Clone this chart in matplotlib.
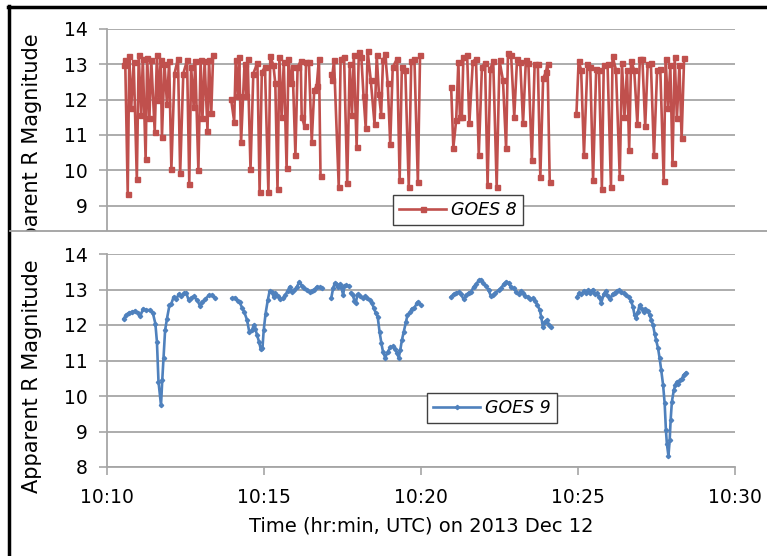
import numpy as np
import matplotlib
matplotlib.use("Agg")
import matplotlib.pyplot as plt
from matplotlib.patches import Rectangle
from matplotlib.lines import Line2D

nan = np.nan

# ---------------- data (time in minutes after 10:00 UTC) ----------------
g8_time = [
    10.53, 10.58, 10.66, 10.71, 10.77, 10.85, 10.95, 11.01, 11.09, 11.14, 11.23, 11.28, 11.35, 11.41,
    11.52, 11.59, 11.64, 11.71, 11.75, 11.83, 11.91, 11.98, 12.05, 12.15, 12.26, 12.33, 12.43, 12.55,
    12.62, 12.68, 12.76, 12.81, 12.91, 12.98, 13.04, 13.11, 13.20, 13.25, 13.32, 13.38, nan,
    13.95, 14.05, 14.10, 14.17, 14.21, 14.27, 14.38, 14.44, 14.48, 14.57, 14.66, 14.79, 14.86, 14.93,
    15.03, 15.14, 15.20, 15.30, 15.36, 15.43, 15.49, 15.56, 15.63, 15.72, 15.78, 15.85, 15.91, 16.00,
    16.07, 16.17, 16.20, 16.29, 16.34, 16.43, 16.52, 16.60, 16.68, 16.75, 16.80, nan,
    17.12, 17.16, 17.23, 17.38, 17.44, 17.55, 17.65, 17.73, 17.80, 17.86, 17.95, 18.02, 18.10, 18.17,
    18.24, 18.30, 18.40, 18.52, 18.59, 18.66, 18.73, 18.79, 18.86, 18.94, 19.02, 19.10, 19.24, 19.32,
    19.39, 19.50, 19.61, 19.69, 19.79, 19.90, 19.97, nan,
    20.96, 21.03, 21.12, 21.19, 21.24, 21.30, 21.35, 21.47, 21.54, 21.65, 21.75, 21.84, 21.94, 22.04,
    22.12, 22.21, 22.30, 22.41, 22.50, 22.61, 22.71, 22.77, 22.87, 22.97, 23.06, 23.16, 23.25, 23.34,
    23.42, 23.53, 23.62, 23.72, 23.80, 23.89, 23.98, 24.03, 24.10, nan,
    24.95, 25.02, 25.10, 25.19, 25.30, 25.39, 25.48, 25.58, 25.67, 25.76, 25.82, 25.94, 26.05, 26.10,
    26.21, 26.33, 26.40, 26.48, 26.56, 26.63, 26.69, 26.79, 26.89, 26.97, 27.05, 27.14, 27.22, 27.32,
    27.42, 27.52, 27.62, 27.73, 27.79, 27.87, 27.94, 28.01, 28.08, 28.15, 28.23, 28.30, 28.38,
]
g8_mag = [
    12.97, 13.11, 9.34, 13.23, 11.75, 13.07, 9.75, 13.25, 11.56, 13.16, 10.31, 13.19, 11.47, 13.11,
    11.08, 13.25, 11.99, 13.11, 10.95, 13.02, 11.89, 13.09, 10.04, 12.74, 13.16, 9.92, 12.74, 13.11,
    9.62, 12.92, 11.80, 13.09, 10.00, 13.11, 11.47, 13.09, 11.12, 13.13, 11.61, 13.25, nan,
    12.03, 11.38, 13.11, 12.10, 13.21, 10.79, 13.02, 12.10, 13.16, 10.03, 12.74, 13.04, 9.39, 12.78,
    12.92, 9.38, 13.23, 12.97, 12.46, 9.47, 13.21, 11.50, 13.07, 10.06, 13.16, 12.46, 12.92, 10.44,
    12.92, 13.09, 11.52, 11.25, 13.07, 13.07, 10.81, 12.27, 12.40, 13.16, 9.83, nan,
    12.74, 12.55, 13.11, 9.54, 13.16, 13.21, 9.64, 13.02, 11.56, 13.25, 10.67, 13.35, 13.21, 12.10,
    11.19, 13.39, 12.55, 11.31, 13.25, 12.17, 11.56, 13.11, 13.28, 12.46, 10.75, 12.92, 13.16, 9.73,
    12.92, 12.85, 9.53, 13.09, 13.16, 9.66, 13.25, nan,
    12.36, 10.64, 11.42, 13.07, 11.52, 11.50, 13.21, 13.25, 11.33, 13.07, 13.16, 10.44, 12.92, 13.04,
    9.57, 12.88, 13.09, 9.54, 13.11, 12.55, 10.62, 13.32, 13.25, 11.52, 13.16, 13.07, 11.33, 13.11,
    13.04, 10.28, 13.02, 13.02, 9.81, 12.60, 12.78, 13.02, 9.66, nan,
    11.59, 13.09, 12.84, 10.44, 13.00, 12.92, 9.73, 12.88, 12.85, 9.48, 12.97, 13.02, 9.53, 13.23,
    12.84, 9.80, 13.04, 11.52, 12.84, 10.58, 13.09, 12.84, 11.31, 13.16, 13.16, 11.25, 13.02, 13.04,
    10.44, 12.84, 12.88, 9.69, 13.16, 11.75, 12.97, 10.20, 13.21, 11.47, 12.97, 10.91, 13.19,
]

g9_time = [
    10.53, 10.61, 10.69, 10.80, 10.90, 10.98, 11.06, 11.15, 11.25, 11.38, 11.46, 11.54, 11.59, 11.64,
    11.72, 11.76, 11.80, 11.85, 11.91, 11.99, 12.05, 12.12, 12.21, 12.28, 12.37, 12.44, 12.53, 12.60,
    12.67, 12.76, 12.87, 12.97, 13.02, 13.13, 13.24, 13.34, 13.45, nan,
    13.98, 14.09, 14.16, 14.22, 14.30, 14.37, 14.46, 14.53, 14.62, 14.67, 14.72, 14.78, 14.84, 14.90,
    14.95, 14.99, 15.05, 15.12, 15.18, 15.25, 15.31, 15.36, 15.43, 15.52, 15.60, 15.68, 15.75, 15.82,
    15.89, 15.97, 16.05, 16.13, 16.21, 16.28, 16.37, 16.45, 16.53, 16.60, 16.69, 16.77, 16.85, nan,
    17.14, 17.20, 17.25, 17.30, 17.36, 17.41, 17.46, 17.52, 17.56, 17.62, 17.70, nan,
    17.77, 17.83, 17.88, 17.92, 17.98, 18.07, 18.15, 18.23, 18.28, 18.36, 18.44, 18.49, 18.56, 18.62,
    18.68, 18.74, 18.79, 18.86, 18.94, 19.02, 19.11, 19.18, 19.23, 19.29, 19.34, 19.39, 19.45, 19.52,
    19.57, 19.66, 19.71, 19.79, 19.87, 19.92, 20.00, nan,
    20.95, 21.04, 21.12, 21.20, 21.27, 21.36, 21.44, 21.52, 21.59, 21.68, 21.76, 21.84, 21.91, 21.99,
    22.08, 22.15, 22.23, 22.29, 22.37, 22.47, 22.55, 22.63, 22.72, 22.79, 22.87, 22.95, 23.04, 23.11,
    23.18, 23.25, 23.32, 23.40, 23.48, 23.57, 23.64, 23.71, 23.78, 23.83, 23.88, 23.94, 24.01, 24.08,
    24.14, nan,
    24.97, 25.04, 25.11, 25.18, 25.25, 25.32, 25.39, 25.47, 25.53, 25.60, 25.68, 25.74, 25.82, 25.89,
    25.95, 26.03, 26.10, 26.17, 26.24, 26.32, 26.38, 26.45, 26.54, 26.61, 26.69, 26.75, 26.80, 26.85,
    26.91, 26.96, 27.04, 27.09, 27.14, 27.22, 27.28, 27.33, 27.39, 27.44, 27.49, 27.55, 27.60, 27.65,
    27.71, 27.76, 27.80, 27.83, 27.88, 27.92, 27.95, 27.99, 28.05, 28.10, 28.15, 28.20, 28.26, 28.31,
    28.36, 28.43,
]
g9_mag = [
    12.18, 12.28, 12.34, 12.37, 12.40, 12.34, 12.25, 12.46, 12.42, 12.42, 12.34, 12.04, 11.53, 10.40,
    9.74, 10.45, 11.06, 11.85, 12.18, 12.56, 12.60, 12.79, 12.72, 12.87, 12.81, 12.89, 12.89, 12.70,
    12.75, 12.81, 12.70, 12.53, 12.65, 12.72, 12.84, 12.84, 12.77, nan,
    12.75, 12.77, 12.68, 12.65, 12.49, 12.37, 12.14, 11.81, 11.85, 12.00, 11.90, 11.71, 11.53, 11.31,
    11.34, 11.85, 12.32, 12.70, 12.96, 12.93, 12.79, 12.89, 12.81, 12.72, 12.75, 12.84, 12.96, 13.08,
    12.93, 12.98, 13.08, 13.22, 13.09, 13.03, 12.98, 12.93, 12.96, 13.00, 13.08, 13.06, 13.03, nan,
    12.75, 13.03, 13.17, 13.15, 13.08, 13.15, 13.08, 12.84, 13.09, 13.12, 13.09, nan,
    12.91, 12.84, 12.68, 12.61, 12.87, 12.81, 12.75, 12.81, 12.75, 12.70, 12.62, 12.49, 12.34, 12.23,
    11.81, 11.48, 11.24, 11.08, 11.24, 11.37, 11.40, 11.31, 11.22, 11.08, 11.29, 11.57, 11.81, 12.09,
    12.28, 12.37, 12.46, 12.49, 12.61, 12.65, 12.56, nan,
    12.79, 12.87, 12.89, 12.93, 12.87, 12.72, 12.84, 12.91, 12.93, 13.08, 13.15, 13.26, 13.28, 13.17,
    13.09, 12.98, 12.81, 12.84, 12.91, 12.98, 13.03, 13.15, 13.22, 13.17, 13.06, 13.03, 12.93, 12.87,
    12.96, 12.89, 12.81, 12.79, 12.72, 12.75, 12.68, 12.56, 12.42, 12.23, 11.95, 12.09, 12.14, 12.00,
    11.93, nan,
    12.79, 12.91, 12.87, 12.96, 12.89, 12.98, 12.89, 13.00, 12.87, 12.89, 12.79, 12.62, 12.87, 12.96,
    12.81, 12.72, 12.87, 12.91, 12.96, 12.98, 12.93, 12.89, 12.84, 12.79, 12.68, 12.51, 12.28, 12.21,
    12.37, 12.56, 12.44, 12.37, 12.46, 12.40, 12.28, 12.15, 12.00, 11.76, 11.57, 11.34, 11.06, 10.73,
    10.31, 9.79, 9.04, 8.66, 8.31, 8.76, 9.32, 9.84, 10.16, 10.31, 10.40, 10.35, 10.45, 10.49,
    10.59, 10.65,
]

x_ticks = [10, 15, 20, 25, 30]
x_ticklabels = ["10:10", "10:15", "10:20", "10:25", "10:30"]
top_yticks = [9, 10, 11, 12, 13, 14]
bot_yticks = [8, 9, 10, 11, 12, 13, 14]

# ---------------- figure ----------------
plt.rcParams["font.family"] = ["DejaVu Sans"]
W, H = 767, 556
fig = plt.figure(figsize=(W / 100, H / 100), dpi=100)


def fx(px):
    return px / W


def fy(py):
    return 1 - py / H


GRID = "#a6a6a6"
RED = "#C0504D"
BLUE = "#4F81BD"

ax1 = fig.add_axes([fx(107), fy(230), fx(735) - fx(107), fy(29) - fy(230)])
ax2 = fig.add_axes([fx(107), fy(467), fx(735) - fx(107), fy(254) - fy(467)])

for ax in (ax1, ax2):
    ax.set_xlim(10, 30)
    for s in ("top", "right"):
        ax.spines[s].set_visible(False)
    ax.spines["left"].set_color(GRID)
    ax.spines["left"].set_linewidth(1.3)
    ax.yaxis.grid(True, color=GRID, linewidth=1.3)
    ax.set_axisbelow(True)
    ax.tick_params(axis="y", direction="out", length=6, width=1.2, color=GRID,
                   pad=8, labelsize=13.5, labelcolor="black")
    ax.set_ylabel("Apparent R Magnitude", fontsize=15)

ax1.set_ylim(8.31, 14)
ax1.set_yticks(top_yticks)
ax1.spines["bottom"].set_visible(False)
ax1.tick_params(axis="x", bottom=False, labelbottom=False)
ax1.yaxis.set_label_coords(-0.103, 0.398)

ax2.set_ylim(8, 14)
ax2.set_yticks(bot_yticks)
ax2.spines["bottom"].set_color(GRID)
ax2.spines["bottom"].set_linewidth(1.3)
ax2.set_xticks(x_ticks)
ax2.set_xticklabels(x_ticklabels)
ax2.tick_params(axis="x", direction="out", length=6, width=1.2, color=GRID,
                pad=9, labelsize=13.5)
ax2.set_xlabel("Time (hr:min, UTC) on 2013 Dec 12", fontsize=14, labelpad=7)
ax2.yaxis.set_label_coords(-0.103, 0.427)

ax1.plot(g8_time, g8_mag, color=RED, lw=1.9, marker="s", ms=3.6, mec=RED, mfc=RED,
         label="GOES 8")
ax2.plot(g9_time, g9_mag, color=BLUE, lw=1.9, marker="D", ms=2.2, mec=BLUE, mfc=BLUE,
         label="GOES 9")

leg_kw = dict(loc="upper left", fancybox=False, framealpha=1, borderaxespad=0,
              handlelength=2.7, handletextpad=0.3, borderpad=0.35,
              prop=dict(size=12.5, style="italic"))
l1 = ax1.legend(bbox_to_anchor=((393 - 107) / 628, (230 - 195) / 201), **leg_kw)
l2 = ax2.legend(bbox_to_anchor=((427 - 107) / 628, (467 - 393) / 213), **leg_kw)
for lg in (l1, l2):
    lg.get_frame().set_edgecolor("#404040")
    lg.get_frame().set_linewidth(1.0)

# clip top panel's y label at the panel separator
clip = Rectangle((0, fy(231)), 1, 1 - fy(231), transform=fig.transFigure)
ax1.yaxis.label.set_clip_path(clip)

# frame lines
fig.add_artist(Line2D([fx(8), 1], [fy(7), fy(7)], color="black", lw=2.5,
                      transform=fig.transFigure))
fig.add_artist(Line2D([fx(9), fx(9)], [fy(6), 0], color="black", lw=2.5,
                      transform=fig.transFigure))
fig.add_artist(Line2D([fx(10), 1], [fy(231), fy(231)], color="#a0a0a0", lw=1.3,
                      transform=fig.transFigure))

fig.savefig("out.png", dpi=100, facecolor="white")
